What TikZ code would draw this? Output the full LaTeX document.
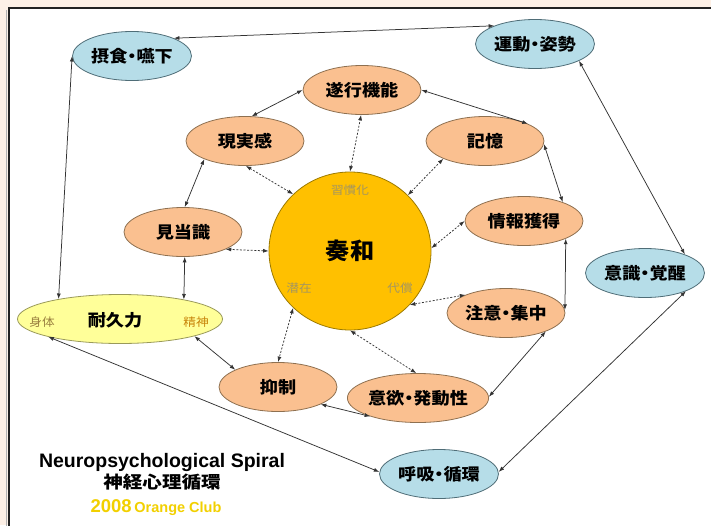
\documentclass[tikz,border=0pt]{standalone}
\usepackage{fontspec}
\usepackage{graphicx}
\usetikzlibrary{shapes.geometric,arrows.meta}
\setmainfont{Liberation Sans}
\newfontfamily\jp{Noto Sans CJK JP}[RawFeature=+palt]
\definecolor{peach}{HTML}{FDF0E6}
\definecolor{framec}{HTML}{222222}
\definecolor{bluefill}{HTML}{B6DDE8}
\definecolor{bluebd}{HTML}{4F6D77}
\definecolor{orfill}{HTML}{FAC090}
\definecolor{orbd}{HTML}{8E7050}
\definecolor{sowafill}{HTML}{FFC000}
\definecolor{sowabd}{HTML}{9C7A00}
\definecolor{taifill}{HTML}{FFFF99}
\definecolor{taibd}{HTML}{9A9A5A}
\definecolor{linec}{HTML}{333333}
\definecolor{olivec}{HTML}{A49660}
\definecolor{shintaic}{HTML}{9A8040}
\definecolor{seishinc}{HTML}{C8840A}
\definecolor{clubc}{HTML}{F2D000}
\newcommand\nlab[1]{\scalebox{1.1}[1]{\fontsize{16.5}{18}\selectfont\jp\bfseries #1}}
\newcommand\slab[1]{\scalebox{1.1}[1]{\fontsize{11.5}{13}\selectfont\jp #1}}
\tikzset{
  ell/.style={ellipse, inner sep=0pt, line width=0.8pt},
  bnode/.style={ell, draw=bluebd, fill=bluefill, minimum width=119pt, minimum height=49pt},
  onode/.style={ell, draw=orbd, fill=orfill, minimum width=118pt, minimum height=49pt},
  snode/.style={ell, draw=sowabd, fill=sowafill, minimum width=162pt, minimum height=158pt},
  tnode/.style={ell, draw=taibd, fill=taifill, minimum width=205pt, minimum height=49pt},
  txt/.style={inner sep=0pt},
  conn/.style={<->, >={Latex[length=5.5pt,width=4pt]}, draw=linec, line width=0.75pt},
  dconn/.style={conn, dash pattern=on 2pt off 1.6pt}
}
\begin{document}
\begin{tikzpicture}[x=1pt,y=-1pt]
\useasboundingbox (0,0) rectangle (711,525);
\clip (0,0) rectangle (711,525);
\fill[peach] (0,0) rectangle (711,525);
\fill[white] (9,8) rectangle (720,535);
\draw[gray!60, line width=1pt] (6.5,10) -- (6.5,530);
\draw[framec, line width=1.5pt] (9,535) -- (9,8) -- (720,8);

% outer blue nodes
\node[bnode] (sesshoku) at (132,56) {\nlab{摂食・嚥下}};
\node[bnode] (undo) at (535,44) {\nlab{運動・姿勢}};
\node[bnode] (ishiki) at (645,273) {\nlab{意識・覚醒}};
\node[bnode] (kokyu) at (439,474) {\nlab{呼吸・循環}};
% endurance
\node[tnode] (taikyu) at (120,319) {};
\node[txt] (taikyuL) at (115,320) {\nlab{耐久力}};
\node[txt, text=shintaic] (shintai) at (42,322) {\slab{身体}};
\node[txt, text=seishinc] (seishin) at (196,322) {\slab{精神}};
% orange nodes
\node[onode] (suiko) at (362,90) {\nlab{遂行機能}};
\node[onode] (genjitsu) at (245,141) {\nlab{現実感}};
\node[onode] (kioku) at (485,141) {\nlab{記憶}};
\node[onode] (joho) at (524,221) {\nlab{情報獲得}};
\node[onode] (kento) at (183,232) {\nlab{見当識}};
\node[onode] (chui) at (506,313) {\nlab{注意・集中}};
\node[onode] (yokusei) at (278,387) {\nlab{抑制}};
\node[onode, minimum width=120pt] (iyoku) at (418,398) {\nlab{意欲・発動性}};
% centre
\node[snode] (sowa) at (350,251) {\scalebox{1.05}[1]{\fontsize{23}{25}\selectfont\jp\bfseries 奏和}};
\node[txt, text=olivec] (shukan) at (350,190) {\slab{習慣化}};
\node[txt, text=olivec] (senzai) at (299,288) {\slab{潜在}};
\node[txt, text=olivec] (daisho) at (400,288) {\slab{代償}};

% solid connectors
\draw[conn] (sesshoku.23) -- (undo.156);
\draw[conn] (sesshoku.180) -- (taikyu.162);
\draw[conn] (undo.339) -- (ishiki.25);
\draw[conn] (ishiki.336) -- (kokyu.2);
\draw[conn] (kokyu.178) -- (taikyu.194);
\draw[conn] (suiko.180) -- (genjitsu.75);
\draw[conn] (suiko.0) -- (kioku.22);
\draw[conn] (kioku.357) -- (joho.26);
\draw[conn] (joho.337) -- (chui.3);
\draw[conn] (chui.335) -- (iyoku.1);
\draw[conn] (iyoku.201) -- (yokusei.338);
\draw[conn] (yokusei.158) -- (taikyu.347);
\draw[conn] (taikyu.17) -- (kento.274);
\draw[conn] (kento.86) -- (genjitsu.204);
% dashed connectors
\draw[dconn] (sowa.90) -- (suiko.268);
\draw[dconn] (sowa.135) -- (genjitsu.272);
\draw[dconn] (sowa.44) -- (kioku.203);
\draw[dconn] (sowa.180) -- (kento.338);
\draw[dconn] (sowa.2) -- (joho.180);
\draw[dconn] (sowa.318) -- (chui.156);
\draw[dconn] (sowa.225) -- (yokusei.90);
\draw[dconn] (sowa.270) -- (iyoku.94);

% title
\node[txt, anchor=base] (title1) at (162,467) {\fontsize{19.5}{22}\selectfont\bfseries Neuropsychological Spiral};
\node[txt] (title2) at (162,482) {\scalebox{1.15}[1]{\fontsize{17}{20}\selectfont\jp\bfseries 神経心理循環}};
\node[txt, anchor=base, text=clubc] (title3) at (156,512) {\bfseries{\fontsize{18.5}{20}\selectfont 2008} {\fontsize{14.5}{17}\selectfont Orange Club}};
\end{tikzpicture}
\end{document}
